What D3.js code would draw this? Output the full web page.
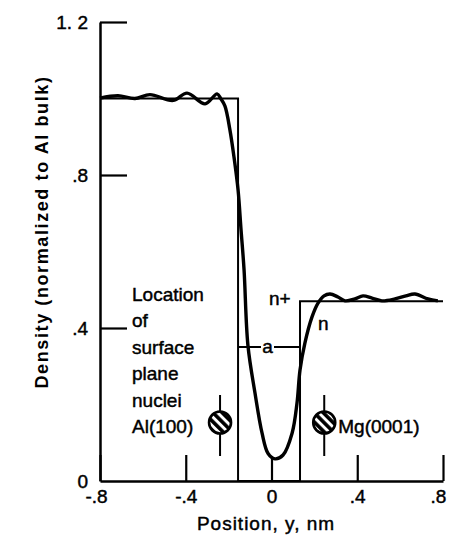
<!DOCTYPE html>
<html>
<head>
<meta charset="utf-8">
<script src="https://cdn.jsdelivr.net/npm/d3@7/dist/d3.min.js"></script>
<style>
  body { margin: 0; background: #fff; }
  text { font-family: "Liberation Sans", Arial, sans-serif; fill: #000; stroke: #000; stroke-width: 0.45px; }
</style>
</head>
<body>
<script>
var width = 449, height = 542;

// density profile
var curvePos = [-0.800, -0.716, -0.637, -0.567, -0.459, -0.394, -0.310, -0.254, -0.236, -0.217,
                -0.194, -0.175, -0.156, -0.142, -0.128, -0.110, -0.077, -0.044, -0.016, 0.016,
                0.054, 0.096, 0.119, 0.133, 0.156, 0.189, 0.217, 0.245, 0.273, 0.310,
                0.343, 0.389, 0.427, 0.469, 0.515, 0.576, 0.627, 0.669, 0.730, 0.776];
var curveDens = [1.001, 1.007, 1.000, 1.010, 0.995, 1.014, 0.986, 1.012, 0.999, 0.980,
                 0.918, 0.847, 0.761, 0.656, 0.552, 0.355, 0.230, 0.125, 0.072, 0.058,
                 0.068, 0.125, 0.204, 0.290, 0.361, 0.429, 0.465, 0.484, 0.489, 0.481,
                 0.471, 0.476, 0.484, 0.478, 0.471, 0.476, 0.484, 0.489, 0.476, 0.471];

// step model
var stepPos = [-0.8, -0.156, -0.156, 0.133, 0.133, 0.8];
var stepDens = [1.0, 1.0, 0, 0, 0.47, 0.47];

var xTicks = [-0.8, -0.4, 0, 0.4, 0.8];
var xTickLabels = ["-.8", "-.4", "0", ".4", ".8"];
var yTicks = [0, 0.4, 0.8, 1.2];
var yTickLabels = ["0", ".4", ".8", "1. 2"];

var nucleiPos = [-0.24, 0.246];
var nucleiNames = ["Al(100)", "Mg(0001)"];
var noteLines = ["Location", "of", "surface", "plane", "nuclei", "Al(100)"];

var svg = d3.select("body").append("svg")
            .attr("width", width)
            .attr("height", height);

var x = d3.scaleLinear().domain([-0.8, 0.8]).range([100, 443]);
var y = d3.scaleLinear().domain([0, 1.2]).range([481, 22]);

var defs = svg.append("defs");
var pat = defs.append("pattern")
              .attr("id", "hatch")
              .attr("patternUnits", "userSpaceOnUse")
              .attr("width", 6.5).attr("height", 6.5)
              .attr("patternTransform", "rotate(-45)");
pat.append("rect").attr("width", 6.5).attr("height", 6.5).attr("fill", "#fff");
pat.append("rect").attr("width", 3.6).attr("height", 6.5).attr("fill", "#000");

// axes
var xAxis = d3.axisBottom(x)
              .tickValues(xTicks)
              .tickFormat(function(d, i) { return xTickLabels[i]; })
              .tickSize(-26)
              .tickSizeOuter(0)
              .tickPadding(9);
var yAxis = d3.axisLeft(y)
              .tickValues(yTicks)
              .tickFormat(function(d, i) { return yTickLabels[i]; })
              .tickSize(-27)
              .tickSizeOuter(0)
              .tickPadding(12);

var gx = svg.append("g").attr("transform", "translate(0," + y(0) + ")").call(xAxis);
var gy = svg.append("g").attr("transform", "translate(" + x(-0.8) + ",0)").call(yAxis);

[gx, gy].forEach(function(g) {
  g.select(".domain").attr("stroke", "#000").attr("stroke-width", 2.5);
  g.selectAll(".tick line").attr("stroke", "#000").attr("stroke-width", 2.2);
  g.selectAll(".tick text").attr("font-size", 19).attr("font-family", "Liberation Sans, sans-serif");
});
// the 0 tick runs up to the curve minimum
gx.selectAll(".tick line").filter(function(d) { return d === 0; })
  .attr("y2", y(d3.min(curveDens)) - y(0));
gx.selectAll(".tick text").attr("dx", function(d) { return d === 0.8 ? -5 : (d === -0.8 ? -4 : 0); });
gy.selectAll(".tick").filter(function(d) { return d === 0; }).select("line").remove();

// step
var stepData = stepPos.map(function(p, i) { return [p, stepDens[i]]; });
svg.append("path")
   .datum(stepData)
   .attr("fill", "none")
   .attr("stroke", "#000")
   .attr("stroke-width", 2)
   .attr("d", d3.line().x(function(d) { return x(d[0]); }).y(function(d) { return y(d[1]); }));

// density curve
var curveData = curvePos.map(function(p, i) { return [p, curveDens[i]]; });
svg.append("path")
   .datum(curveData)
   .attr("fill", "none")
   .attr("stroke", "#000")
   .attr("stroke-width", 3.4)
   .attr("stroke-linejoin", "round")
   .attr("d", d3.line()
                .curve(d3.curveCatmullRom.alpha(0.5))
                .x(function(d) { return x(d[0]); })
                .y(function(d) { return y(d[1]); }));

// nuclei markers
var nuc = svg.selectAll("g.nuc")
   .data(nucleiPos)
   .enter().append("g").attr("class", "nuc");
nuc.append("line")
   .attr("x1", function(d) { return x(d); })
   .attr("x2", function(d) { return x(d); })
   .attr("y1", 395).attr("y2", 456)
   .attr("stroke", "#000").attr("stroke-width", 2);
nuc.append("circle")
   .attr("cx", function(d) { return x(d); })
   .attr("cy", 422.5)
   .attr("r", 11)
   .attr("fill", "url(#hatch)")
   .attr("stroke", "#000")
   .attr("stroke-width", 2.6);

svg.append("text")
   .attr("x", x(nucleiPos[1]) + 14)
   .attr("y", 433)
   .attr("font-size", 19)
   .text(nucleiNames[1]);

svg.append("text")
   .attr("font-size", 19)
   .selectAll("tspan")
   .data(noteLines)
   .enter().append("tspan")
   .attr("x", 132)
   .attr("y", function(d, i) { return 301 + i * 26.4; })
   .text(function(d) { return d; });

// "a" dimension between the planes
var aY = 347;
svg.append("line").attr("x1", x(stepPos[1])).attr("x2", 261).attr("y1", aY).attr("y2", aY)
   .attr("stroke", "#000").attr("stroke-width", 2);
svg.append("line").attr("x1", 274).attr("x2", x(stepPos[3])).attr("y1", aY).attr("y2", aY)
   .attr("stroke", "#000").attr("stroke-width", 2);
svg.append("text").attr("x", 267.5).attr("y", 353).attr("text-anchor", "middle")
   .attr("font-size", 19).text("a");

svg.append("text").attr("x", 269).attr("y", 305).attr("font-size", 19).text("n+");
svg.append("text").attr("x", 318).attr("y", 330).attr("font-size", 19).text("n");

// axis titles
svg.append("text")
   .attr("x", 266).attr("y", 530)
   .attr("text-anchor", "middle")
   .attr("font-size", 19)
   .attr("letter-spacing", 1)
   .text("Position, y, nm");

svg.append("text")
   .attr("transform", "translate(48,232) rotate(-90)")
   .attr("text-anchor", "middle")
   .attr("font-size", 18)
   .attr("font-weight", "bold")
   .attr("letter-spacing", 1.6)
   .style("stroke-width", "0px")
   .text("Density (normalized to Al bulk)");
</script>
</body>
</html>
